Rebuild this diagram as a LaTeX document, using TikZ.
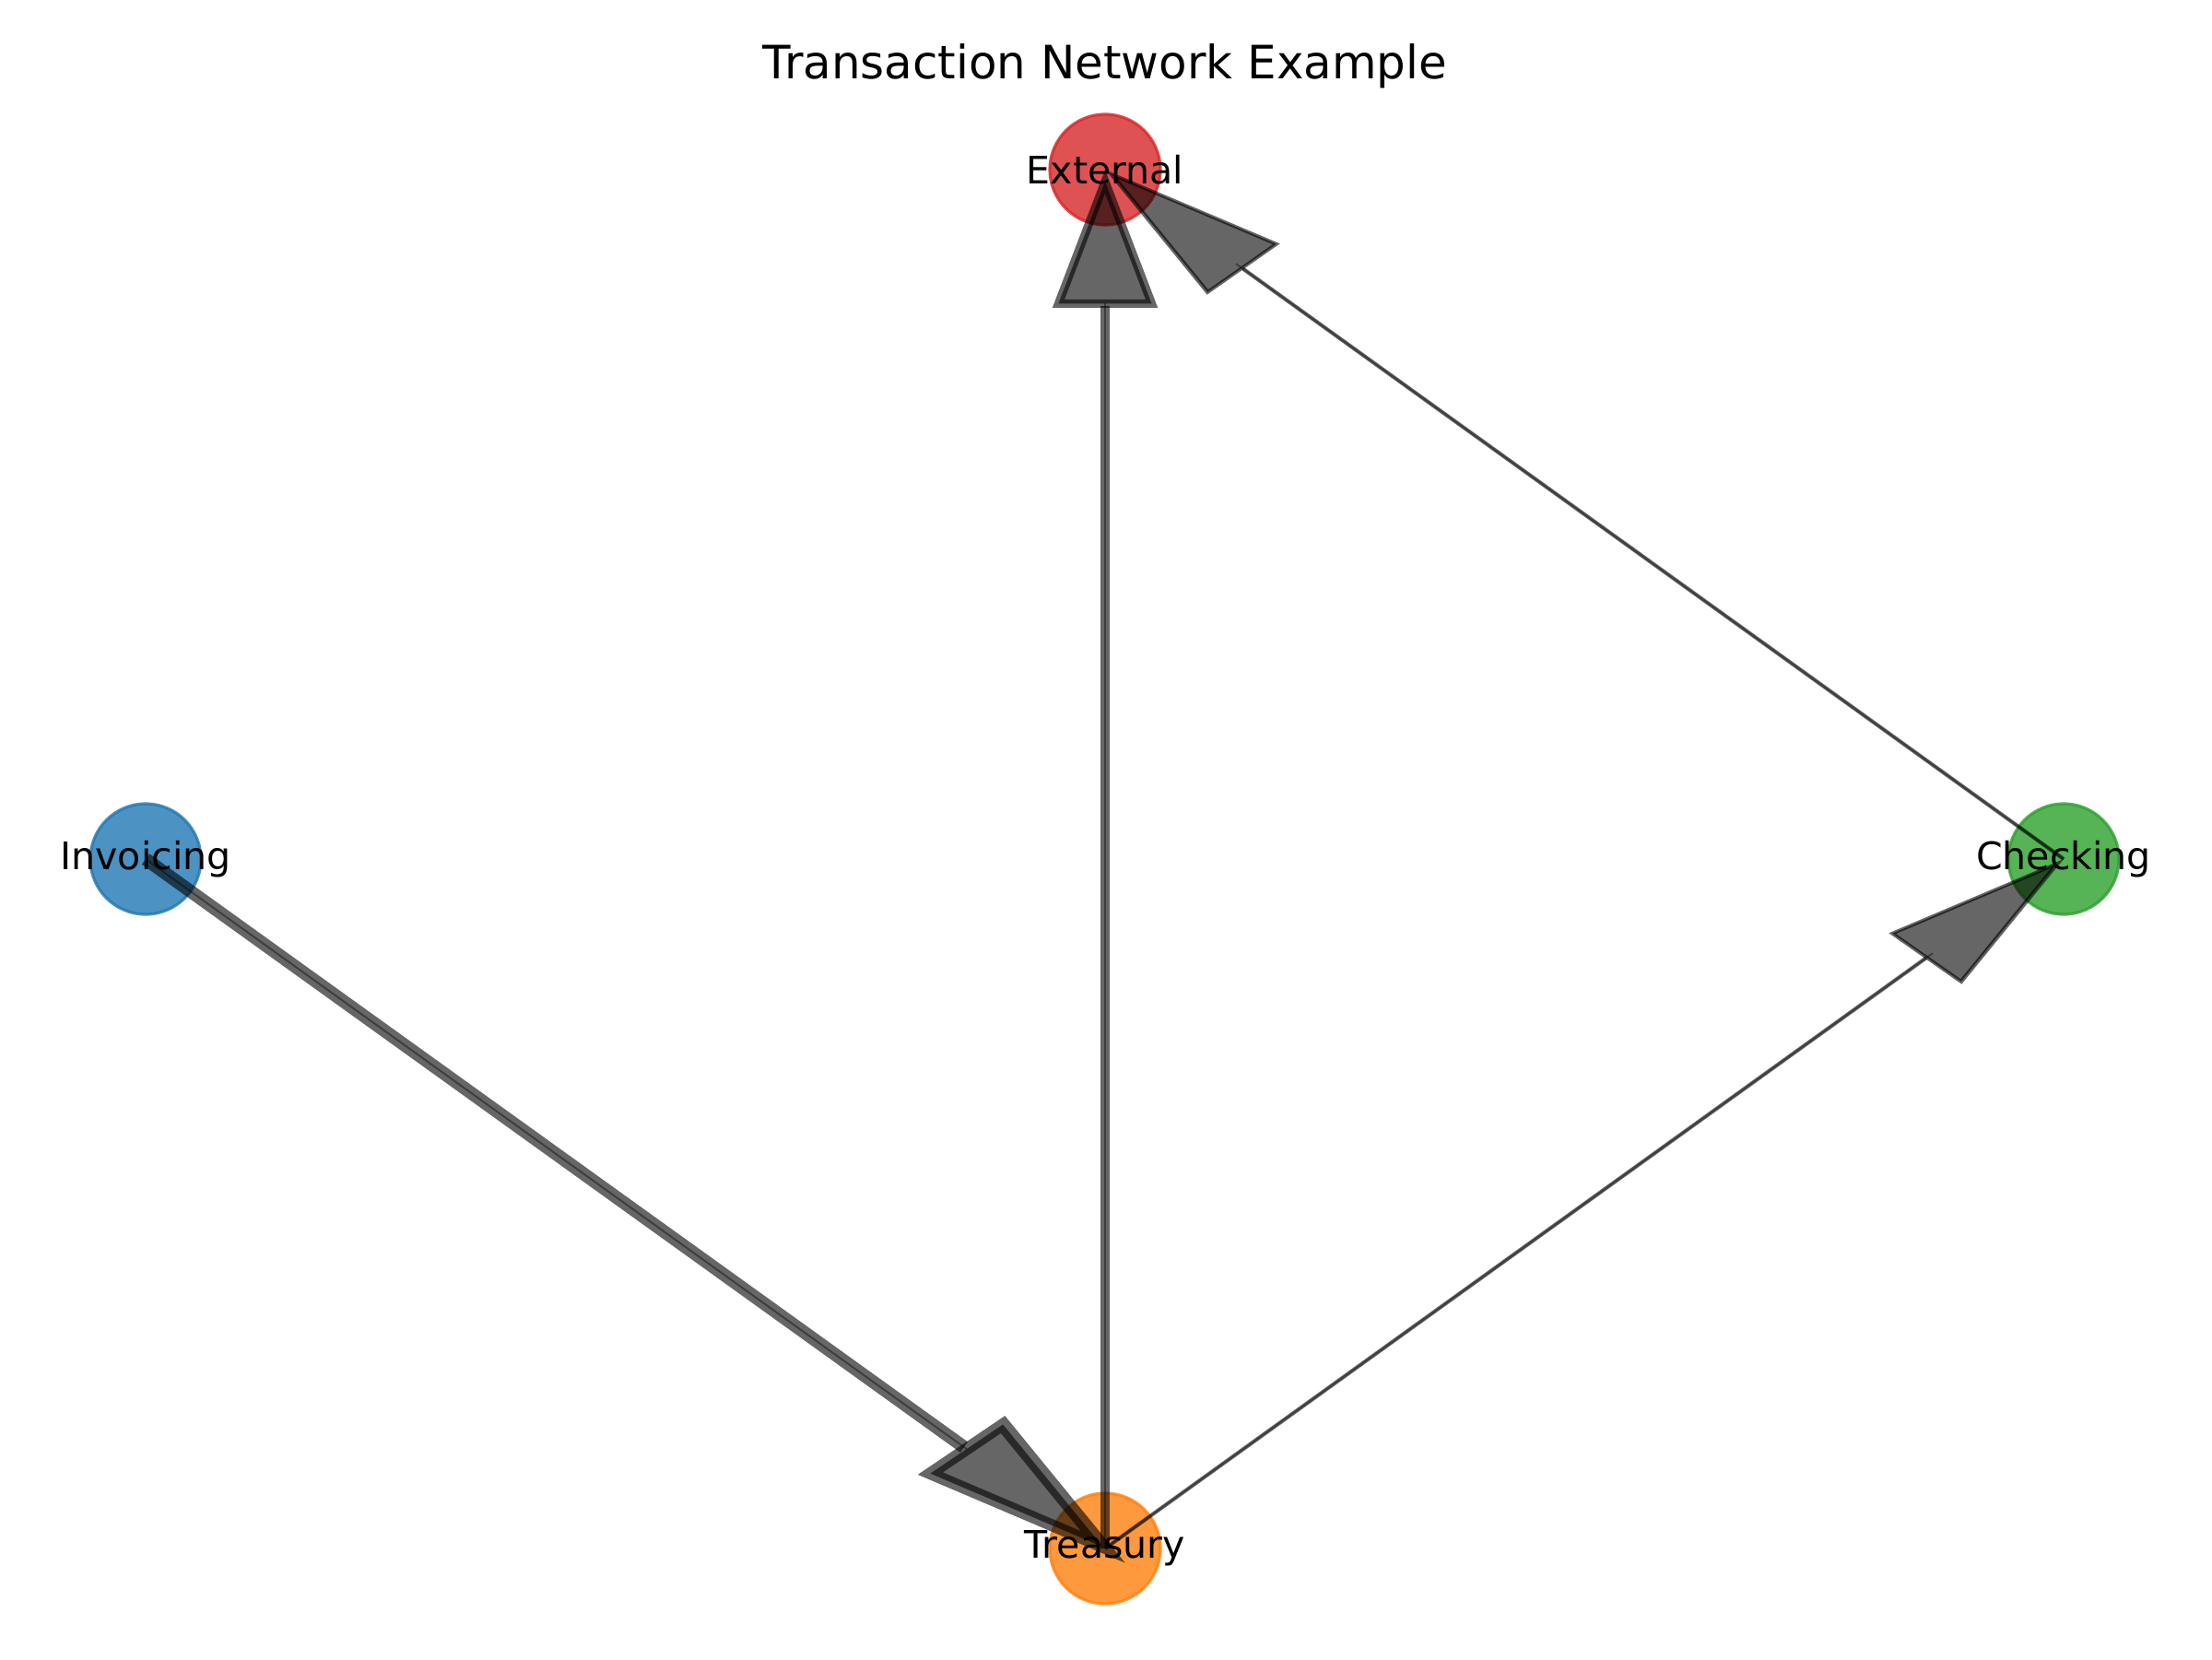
\documentclass[tikz,border=0pt]{standalone}
\usepackage{fontspec}
\setmainfont{DejaVu Sans}
\usetikzlibrary{arrows.meta}

\definecolor{tabblue}{HTML}{1F77B4}
\definecolor{taborange}{HTML}{FF7F0E}
\definecolor{tabgreen}{HTML}{2CA02C}
\definecolor{tabred}{HTML}{D62728}

\tikzset{
    account/.style={circle, minimum size=1.2cm, inner sep=0pt, line width=0.9pt, draw=#1, fill=#1, opacity=0.8},
    flow/.style 2 args={draw=black, opacity=0.6, line width=#1, postaction={draw, arrows=-, opacity=0.4, line width=0.55pt, shorten >=#2}},
    acclabel/.style={font=\fontsize{11.7}{14}\selectfont, inner sep=0pt},
}

\begin{document}
\begin{tikzpicture}[]

\useasboundingbox (0,0) rectangle (24,18);

\node[font=\fontsize{14.2}{17}\selectfont, anchor=base] (title) at (11.99,17.14) {Transaction Network Example};

% accounts
\node[account=tabred] (ext) at (11.99,16.16) {};
\node[account=tabblue] (inv) at (1.58,8.68) {};
\node[account=tabgreen] (chk) at (22.39,8.68) {};
\node[account=taborange] (tre) at (11.99,1.20) {};

% flows
\draw[flow={4pt}{1.85cm}, shorten >=-0.28cm, -{Triangle[length=2.2cm, width=1.03cm, slant=0.37, fill=black]}] (inv.center) -- (tre.center);
\draw[flow={2.6pt}{1.45cm}, -{Triangle[length=1.5cm, width=1.12cm, fill=black]}] (tre.center) -- (ext.center);
\draw[flow={1.15pt}{1.75cm}, -{Triangle[length=1.85cm, width=0.9cm, slant=-0.35, fill=black]}] (tre.center) -- (chk.center);
\draw[flow={1.15pt}{1.75cm}, -{Triangle[length=1.85cm, width=0.9cm, slant=0.35, fill=black]}] (chk.center) -- (ext.center);

% \draw (ext) circle (0.7);

\node[acclabel] (ext-lbl) at (ext) {External};
\node[acclabel] (inv-lbl) at (inv) {Invoicing};
\node[acclabel] (chk-lbl) at (chk) {Checking};
\node[acclabel] (tre-lbl) at (tre) {Treasury};

\end{tikzpicture}
\end{document}
